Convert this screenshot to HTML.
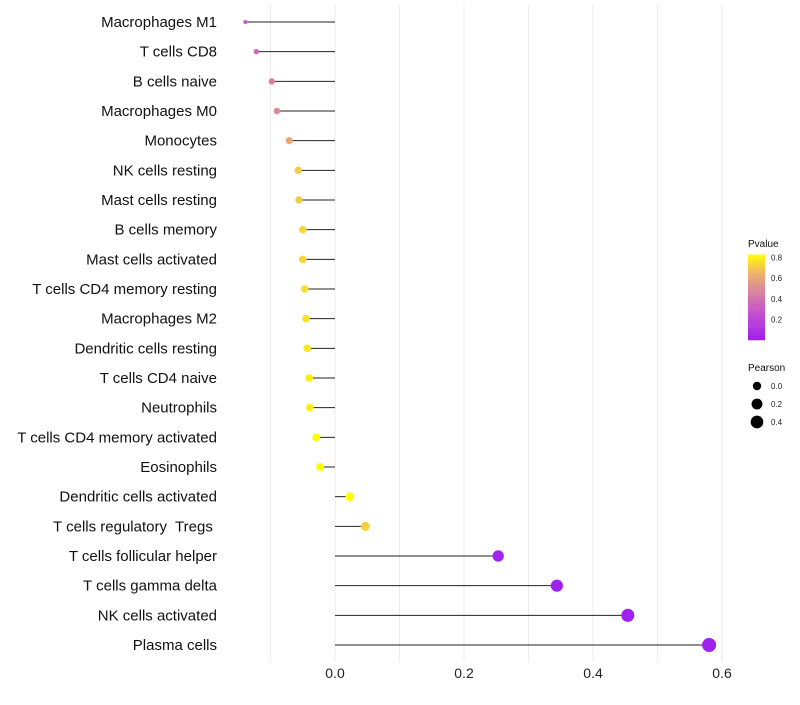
<!DOCTYPE html>
<html><head><meta charset="utf-8"><style>
body{margin:0;background:#fff;font-family:"Liberation Sans",sans-serif}
text{white-space:pre}
</style></head><body>
<svg id="chart" width="800" height="700" xmlns="http://www.w3.org/2000/svg" font-family="Liberation Sans, sans-serif"></svg>
<script>
const categories=["Macrophages M1","T cells CD8","B cells naive","Macrophages M0","Monocytes","NK cells resting","Mast cells resting","B cells memory","Mast cells activated","T cells CD4 memory resting","Macrophages M2","Dendritic cells resting","T cells CD4 naive","Neutrophils","T cells CD4 memory activated","Eosinophils","Dendritic cells activated","T cells regulatory  Tregs ","T cells follicular helper","T cells gamma delta","NK cells activated","Plasma cells"];
const pearson=[-0.139,-0.122,-0.098,-0.090,-0.071,-0.057,-0.056,-0.050,-0.050,-0.047,-0.045,-0.043,-0.040,-0.039,-0.029,-0.023,0.023,0.047,0.253,0.344,0.454,0.580];
const pvalue=[0.30,0.36,0.46,0.50,0.60,0.70,0.70,0.73,0.73,0.75,0.76,0.77,0.79,0.79,0.82,0.84,0.83,0.72,0.02,0.01,0.005,0.001];
const xTicks=[0,0.2,0.4,0.6];
const xTickLabels=["0.0","0.2","0.4","0.6"];
const cbTicks=[0.2,0.4,0.6,0.8];
const sizeTicks=[0.0,0.2,0.4];

const svg=document.getElementById('chart');
const NS="http://www.w3.org/2000/svg";
function mk(t,a,parent){const e=document.createElementNS(NS,t);for(const k in a)e.setAttribute(k,a[k]);(parent||svg).appendChild(e);return e;}
const x=v=>335+v*645;
const y=i=>22+i*(623/(categories.length-1));
const pMin=Math.min(...pearson),pMax=Math.max(...pearson);
const rad=v=>2+5*Math.sqrt(Math.max(0,(v-pMin)/(pMax-pMin)));
const stops=[[0,[160,32,240]],[0.3,[200,90,200]],[0.5,[220,140,150]],[0.65,[240,180,100]],[0.83,[255,255,0]]];
function col(p){p=Math.max(0,Math.min(0.83,p));for(let i=1;i<stops.length;i++){if(p<=stops[i][0]){const a=stops[i-1],b=stops[i];const t=(p-a[0])/(b[0]-a[0]);const c=a[1].map((v,j)=>Math.round(v+(b[1][j]-v)*t));return `rgb(${c})`;}}return 'rgb(255,255,0)';}

for(let v=-0.1;v<=0.65;v+=0.1){const g=mk('line',{x1:x(v),x2:x(v),y1:5,y2:662,stroke:'#ebebeb','stroke-width':1});

}
xTicks.forEach((v,i)=>{const t=mk('text',{x:x(v),y:678,'text-anchor':'middle','font-size':14,fill:'#222'});t.textContent=xTickLabels[i];

});
categories.forEach((c,i)=>{
const t=mk('text',{x:217,y:y(i)+5,'text-anchor':'end','font-size':15,fill:'#111'});t.textContent=c;


const l=mk('line',{x1:x(0),x2:x(pearson[i]),y1:y(i),y2:y(i),stroke:'#222','stroke-width':1});


const d=mk('circle',{cx:x(pearson[i]),cy:y(i),r:rad(pearson[i]),fill:col(pvalue[i])});


});
const lg=mk('text',{x:748,y:247,'font-size':10,fill:'#111'});lg.textContent='Pvalue';


const cy=v=>340-v*103;
for(let v=0;v<0.83;v+=0.01){mk('rect',{x:748,y:cy(v+0.01),width:17,height:1.3,fill:col(v)});}
cbTicks.forEach(v=>{const t=mk('text',{x:771,y:cy(v)+3,'font-size':8,fill:'#222'});t.textContent=v.toFixed(1);

});
const pl=mk('text',{x:748,y:371,'font-size':10,fill:'#111'});pl.textContent='Pearson';


sizeTicks.forEach((v,i)=>{const yy=386+i*18;
const c=mk('circle',{cx:757,cy:yy,r:rad(v),fill:'#000'});


const t=mk('text',{x:771,y:yy+3,'font-size':8,fill:'#222'});t.textContent=v.toFixed(1);

});
</script>
</body></html>
